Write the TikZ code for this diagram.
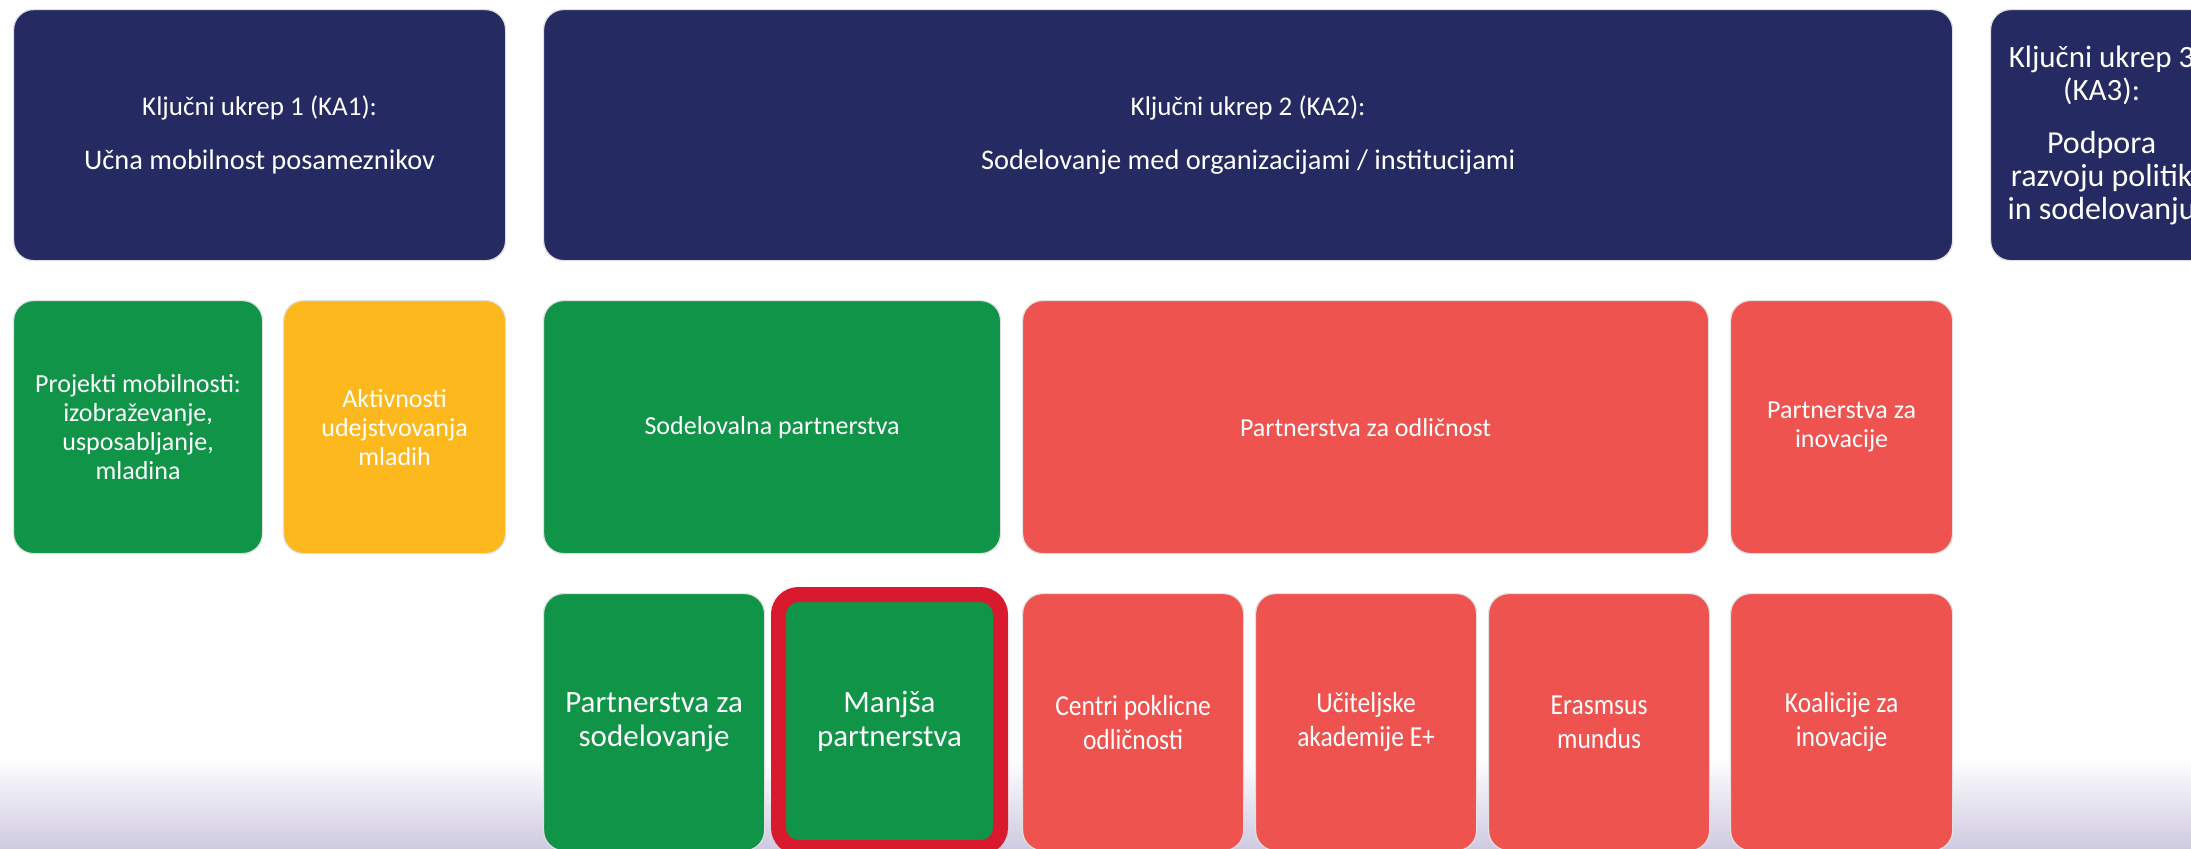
\documentclass[tikz,border=0pt]{standalone}
\usepackage{fontspec}
\setmainfont{Carlito}
\newfontfamily\narrowfont[FakeStretch=0.88]{Carlito}

\definecolor{kanavy}{RGB}{37,42,98}
\definecolor{kagreen}{RGB}{16,148,72}
\definecolor{kayellow}{RGB}{253,184,30}
\definecolor{kasalmon}{RGB}{238,83,80}
\definecolor{kared}{RGB}{217,26,46}
\definecolor{kalav}{RGB}{207,202,225}

\newcommand{\katitle}{\fontsize{13.5}{16}\selectfont}
\newcommand{\kasub}{\fontsize{14.2}{16}\selectfont}
\newcommand{\kathree}{\fontsize{15.5}{17}\selectfont}
\newcommand{\kathreesub}{\fontsize{16}{16.5}\selectfont}
\newcommand{\kabox}{\fontsize{13}{14.5}\selectfont}
\newcommand{\kabig}{\fontsize{15.5}{17}\selectfont}
\newcommand{\kanarrow}{\narrowfont\fontsize{14.5}{17}\selectfont}

\begin{document}
\begin{tikzpicture}[x=0.5pt,y=-0.5pt,
    tile/.style={rectangle,rounded corners=10pt,draw=black!12,line width=0.6pt,
                 text=white,align=center,anchor=north west,inner sep=2pt},
    navytile/.style={tile,fill=kanavy,minimum height=125.5pt,font=\kasub},
    rowtwo/.style={tile,minimum height=126.5pt},
    rowthree/.style={tile,minimum height=128.5pt,minimum width=110.5pt}]

        \useasboundingbox (0,0) rectangle (2191,848);
        \fill[white] (0,0) rectangle (2191,848);
        \shade[top color=white,bottom color=kalav] (0,757) rectangle (2191,848);

        \node[navytile,minimum width=246pt] (ka1) at (13,9)
            {{\katitle Ključni ukrep 1 (KA1):}\\[11pt]Učna mobilnost posameznikov};
        \node[navytile,minimum width=704.5pt] (ka2) at (543,9)
            {{\katitle Ključni ukrep 2 (KA2):}\\[11pt]Sodelovanje med organizacijami / institucijami};
        \node[navytile,minimum width=111pt,font=\kathreesub] (ka3) at (1990,9)
            {{\kathree Ključni ukrep 3}\\{\kathree (KA3):}\\[10pt]Podpora\\razvoju politik\\in sodelovanju};

        \node[rowtwo,fill=kagreen,minimum width=124.5pt,font=\kabox] (mobil) at (13,300)
            {Projekti mobilnosti:\\izobraževanje,\\usposabljanje,\\mladina};
        \node[rowtwo,fill=kayellow,minimum width=111pt,font=\kabox] (mladi) at (283,300)
            {Aktivnosti\\udejstvovanja\\mladih};
        \node[rowtwo,fill=kagreen,minimum width=228.5pt,font=\kabox] (sodel) at (543,300)
            {Sodelovalna partnerstva};
        \node[rowtwo,fill=kasalmon,minimum width=343pt,font=\kabox] (odlic) at (1022,300)
            {Partnerstva za odličnost};
        \node[rowtwo,fill=kasalmon,minimum width=111pt,font=\kabox] (inov) at (1730,300)
            {Partnerstva za\\inovacije};

        \node[rowthree,fill=kagreen,font=\kabig] (psodel) at (543,593)
            {Partnerstva za\\sodelovanje};
        \node[rowthree,fill=kagreen,draw=kared,line width=7.5pt,minimum width=111pt,
              minimum height=126.5pt,font=\kabig] (manjsa) at (771,587)
            {Manjša\\partnerstva};
        \node[rowthree,fill=kasalmon,font=\kanarrow] (centri) at (1022,593)
            {Centri poklicne\\odličnosti};
        \node[rowthree,fill=kasalmon,font=\kanarrow] (akad) at (1255,593)
            {Učiteljske\\akademije E+};
        \node[rowthree,fill=kasalmon,font=\kanarrow] (mundus) at (1488,593)
            {Erasmsus\\mundus};
        \node[rowthree,fill=kasalmon,minimum width=111pt,font=\kanarrow] (koal) at (1730,593)
            {Koalicije za\\inovacije};
\end{tikzpicture}
\end{document}
